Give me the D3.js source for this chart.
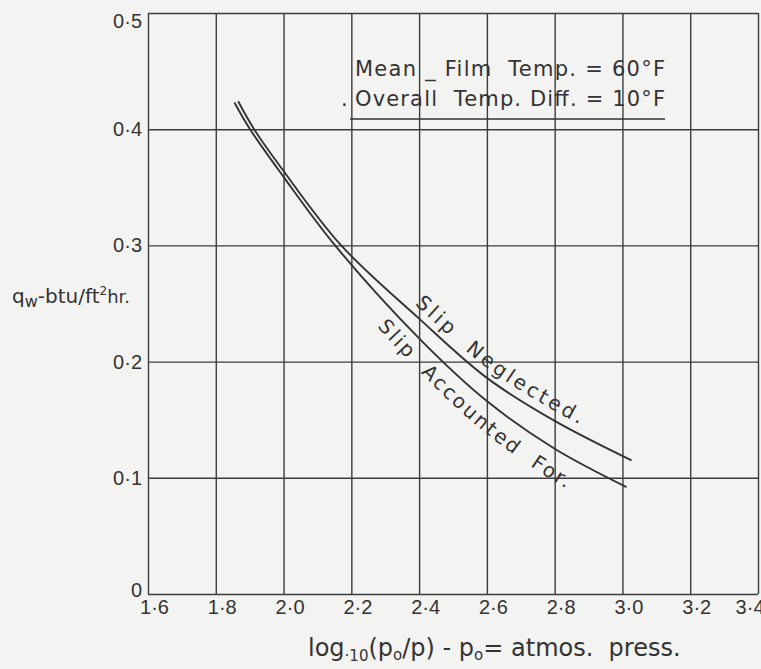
<!doctype html>
<html>
  <head>
    <script src="https://cdnjs.cloudflare.com/ajax/libs/d3/7.8.5/d3.min.js"></script>
    <style>
      body { margin: 0; background: #f3f3f1; }
      svg { display: block; background: #f3f3f1; font-family: "DejaVu Sans", sans-serif; }
      .grid line { stroke: #3c3c3c; stroke-width: 1.4; }
      .grid path { display: none; }
      .grid text { fill: #333; font-size: 20px; }
      path.curve { fill: none; stroke: #333; stroke-width: 1.9; }
      text.note, text.title, text.curveLabel { fill: #333; white-space: pre; }
    </style>
  </head>
  <body>
    <svg id="chart" width="761" height="669"></svg>
    <script>
      // axis ticks
      var xTicks = [1.6, 1.8, 2.0, 2.2, 2.4, 2.6, 2.8, 3.0, 3.2, 3.4];
      var xTickLabels = ["1·6", "1·8", "2·0", "2·2", "2·4", "2·6", "2·8", "3·0", "3·2", "3·4"];
      var yTicks = [0, 0.1, 0.2, 0.3, 0.4, 0.5];
      var yTickLabels = ["0", "0·1", "0·2", "0·3", "0·4", "0·5"];

      // curves: [log10(p0/p), qw]
      var slipNeglected = [[1.866, 0.424], [1.913, 0.400], [2.0, 0.364], [2.17, 0.300],
        [2.4, 0.237], [2.6, 0.186], [2.8, 0.149], [3.027, 0.115]];
      var slipAccounted = [[1.855, 0.423], [1.901, 0.400], [2.0, 0.359], [2.152, 0.300],
        [2.4, 0.220], [2.6, 0.166], [2.8, 0.125], [3.012, 0.092]];

      var notes = ["Mean _ Film  Temp. = 60°F", "Overall  Temp. Diff. = 10°F"];

      var svg = d3.select("#chart");
      var mLeft = 148, mTop = 13, w = 610, h = 581;

      var x = d3.scaleLinear().domain([1.6, 3.4]).range([mLeft, mLeft + w]);
      var y = d3.scaleLinear().domain([0, 0.5]).range([mTop + h, mTop]);

      var gx = svg.append("g")
        .attr("class", "grid")
        .attr("transform", "translate(0," + (mTop + h) + ")")
        .call(d3.axisBottom(x).tickValues(xTicks).tickSize(-h).tickPadding(6)
          .tickFormat((d, i) => xTickLabels[i]));
      gx.selectAll("text").attr("dx", 6);
      gx.selectAll(".tick:last-of-type text").attr("text-anchor", "end").attr("dx", 6);

      var gy = svg.append("g")
        .attr("class", "grid")
        .attr("transform", "translate(" + mLeft + ",0)")
        .call(d3.axisLeft(y).tickValues(yTicks).tickSize(-w).tickPadding(6)
          .tickFormat((d, i) => yTickLabels[i]));
      gy.selectAll(".tick:last-of-type text").attr("dy", "0.72em");
      gy.selectAll(".tick:first-of-type text").attr("dy", "0.1em");

      var line = d3.line()
        .x(d => x(d[0]))
        .y(d => y(d[1]))
        .curve(d3.curveCatmullRom.alpha(0.5));

      svg.append("path").attr("class", "curve").attr("d", line(slipNeglected));
      svg.append("path").attr("class", "curve").attr("d", line(slipAccounted));

      // label paths, shifted a few pixels off the curves
      function labelPath(id, data, shift) {
        var l = d3.line().x(d => x(d[0])).y(d => y(d[1]) + shift).curve(d3.curveCatmullRom.alpha(0.5));
        return svg.append("defs").append("path").attr("id", id).attr("d", l(data)).node();
      }
      function offsetAt(node, px) {
        var len = node.getTotalLength();
        for (var s = 0; s < len; s += 1) {
          if (node.getPointAtLength(s).x >= px) return s;
        }
        return 0;
      }

      var pN = labelPath("lblN", slipNeglected, -10);
      var pA = labelPath("lblA", slipAccounted, 33);

      svg.append("text").attr("class", "curveLabel").style("font-size", "20px")
        .append("textPath").attr("href", "#lblN")
        .attr("startOffset", offsetAt(pN, 414))
        .attr("textLength", 205)
        .text("Slip  Neglected.");

      svg.append("text").attr("class", "curveLabel").style("font-size", "20px")
        .append("textPath").attr("href", "#lblA")
        .attr("startOffset", offsetAt(pA, 377))
        .attr("textLength", 250)
        .text("Slip  Accounted  For.");

      // note box
      svg.selectAll("text.note").data(notes).enter()
        .append("text")
        .attr("class", "note")
        .attr("x", 355)
        .attr("y", (d, i) => 76 + i * 30)
        .attr("textLength", 310)
        .style("font-size", "21px")
        .text(d => d);
      svg.append("text").attr("class", "note").attr("x", 341).attr("y", 106)
        .style("font-size", "21px").text(".");
      svg.append("line")
        .attr("x1", 350).attr("x2", 665).attr("y1", 119).attr("y2", 119)
        .attr("stroke", "#333").attr("stroke-width", 1.6);

      // y title
      var yt = svg.append("text").attr("class", "title")
        .attr("x", 12).attr("y", 303).style("font-size", "20px");
      yt.append("tspan").text("q");
      yt.append("tspan").attr("dy", 4).style("font-size", "16px").text("w");
      yt.append("tspan").attr("dy", -4).text("-btu/ft");
      yt.append("tspan").attr("dy", -8).style("font-size", "12px").text("2");
      yt.append("tspan").attr("dy", 8).style("font-size", "18px").text("hr.");

      // x title
      var xt = svg.append("text").attr("class", "title")
        .attr("x", 308).attr("y", 656).style("font-size", "24px");
      xt.append("tspan").text("log");
      xt.append("tspan").attr("dy", 5).style("font-size", "15px").text("·10");
      xt.append("tspan").attr("dy", -5).text("(p");
      xt.append("tspan").attr("dy", 4).style("font-size", "15px").text("o");
      xt.append("tspan").attr("dy", -4).text("/p) - p");
      xt.append("tspan").attr("dy", 4).style("font-size", "15px").text("o");
      xt.append("tspan").attr("dy", -4).text("= atmos.  press.");
    </script>
  </body>
</html>
